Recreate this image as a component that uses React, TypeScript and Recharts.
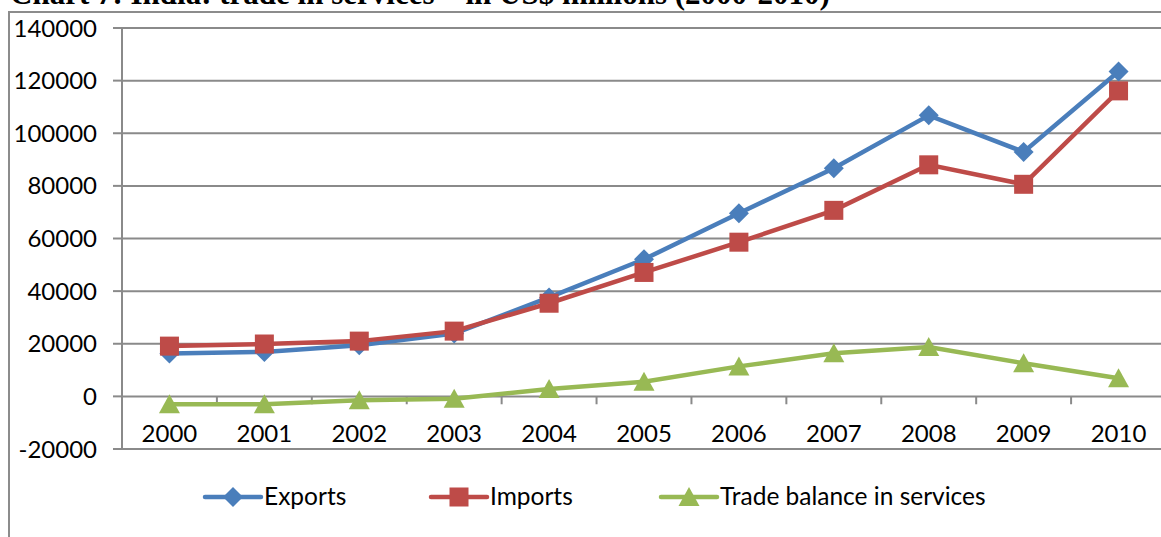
import React from "react";
import { LineChart, Line, XAxis, YAxis, CartesianGrid, ReferenceLine } from "recharts";

const years = [2000, 2001, 2002, 2003, 2004, 2005, 2006, 2007, 2008, 2009, 2010];
const exportsValues = [16300, 16900, 19400, 23900, 37600, 52100, 69600, 86700, 106800, 92900, 123500];
const importsValues = [19100, 19900, 21000, 24800, 35400, 47100, 58600, 70700, 88000, 80600, 116100];
const balanceValues = [-3000, -3000, -1500, -900, 2800, 5600, 11400, 16400, 18800, 12600, 6900];
const yTicks = [-20000, 0, 20000, 40000, 60000, 80000, 100000, 120000, 140000];

const seriesNames = ["Exports", "Imports", "Trade balance in services"];
const seriesColors = ["#4A7EBB", "#BE4B48", "#98B954"];

const data = years.map((year, i) => ({
  year,
  exports: exportsValues[i],
  imports: importsValues[i],
  balance: balanceValues[i]
}));

const boundaries = years.slice(1).map((y) => y - 0.5);

const FONT = "Lato, 'Noto Sans', sans-serif";
const GRID = "#8A8A8A";

function Marker({ kind, cx, cy, color }: { kind: number; cx: number; cy: number; color: string }) {
  if (kind === 0) {
    return <polygon points={`${cx},${cy - 10} ${cx + 10},${cy} ${cx},${cy + 10} ${cx - 10},${cy}`} fill={color} />;
  }
  if (kind === 1) {
    return <rect x={cx - 9.5} y={cy - 9.5} width={19} height={19} fill={color} />;
  }
  return <polygon points={`${cx},${cy - 10} ${cx + 10.5},${cy + 9} ${cx - 10.5},${cy + 9}`} fill={color} />;
}

const makeDot = (kind: number) => (props: any) => {
  const { cx, cy, index } = props;
  if (cx == null || cy == null) return <g key={index} />;
  return <Marker key={index} kind={kind} cx={cx} cy={cy} color={seriesColors[kind]} />;
};

const XTick = (props: any) => {
  const { x, y, payload } = props;
  return (
    <text x={x} y={y - 9} textAnchor="middle" fontFamily={FONT} fontSize={24} fill="#000">
      {payload.value}
    </text>
  );
};

export default function App() {
  const legendX = [205, 431, 661];
  return (
    <div style={{ position: "fixed", left: 0, top: 0, width: 1161, height: 537, overflow: "hidden", background: "#fff" }}>
      <svg width={1161} height={537} style={{ position: "absolute", left: 0, top: 0 }}>
        <text x={10} y={4} fontFamily="'Liberation Serif', 'Times New Roman', serif" fontWeight="bold" fontSize={31} fill="#000">
          Chart 7: India: trade in services – in US$ millions (2000-2010)
        </text>
        <rect x={9} y={12} width={1300} height={700} fill="none" stroke="#8C8C8C" strokeWidth={2} />
      </svg>
      <div style={{ position: "absolute", left: 0, top: 0 }}>
        <LineChart width={1180} height={479} data={data} margin={{ top: 28, right: 14, bottom: 0, left: 0 }}>
          <CartesianGrid vertical={false} stroke={GRID} strokeWidth={2} />
          <XAxis
            dataKey="year"
            type="number"
            domain={[1999.5, 2010.5]}
            ticks={years}
            interval={0}
            allowDataOverflow
            axisLine={false}
            tickLine={false}
            tickSize={0}
            height={30}
            tick={<XTick />}
          />
          <YAxis
            domain={[-20000, 140000]}
            ticks={yTicks}
            interval={0}
            width={122}
            tickSize={9}
            tickMargin={16}
            axisLine={{ stroke: GRID, strokeWidth: 2 }}
            tickLine={{ stroke: GRID, strokeWidth: 2 }}
            tick={{ fontFamily: FONT, fontSize: 24, fill: "#000" }}
          />
          {boundaries.map((b) => (
            <ReferenceLine
              key={b}
              segment={[{ x: b, y: 0 }, { x: b, y: -3000 }]}
              stroke={GRID}
              strokeWidth={2}
            />
          ))}
          <Line type="linear" dataKey="exports" stroke={seriesColors[0]} strokeWidth={4.5} dot={makeDot(0)} activeDot={false} isAnimationActive={false} />
          <Line type="linear" dataKey="imports" stroke={seriesColors[1]} strokeWidth={4.5} dot={makeDot(1)} activeDot={false} isAnimationActive={false} />
          <Line type="linear" dataKey="balance" stroke={seriesColors[2]} strokeWidth={4.5} dot={makeDot(2)} activeDot={false} isAnimationActive={false} />
        </LineChart>
      </div>
      <svg width={1161} height={537} style={{ position: "absolute", left: 0, top: 0, pointerEvents: "none" }}>
        {seriesNames.map((name, i) => (
          <g key={name}>
            <line x1={legendX[i]} y1={497} x2={legendX[i] + 56} y2={497} stroke={seriesColors[i]} strokeWidth={4.5} strokeLinecap="round" />
            <Marker kind={i} cx={legendX[i] + 28} cy={497} color={seriesColors[i]} />
            <text x={legendX[i] + 59} y={505} fontFamily={FONT} fontSize={24.5} fill="#000">
              {name}
            </text>
          </g>
        ))}
      </svg>
    </div>
  );
}
